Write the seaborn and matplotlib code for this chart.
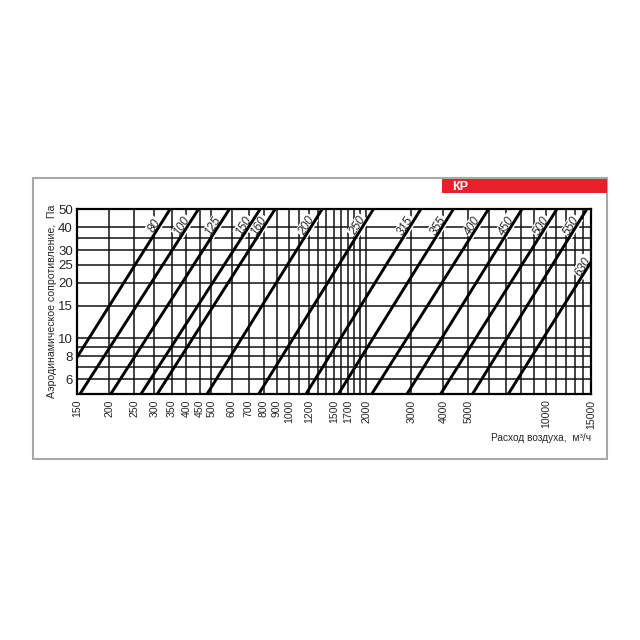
import numpy as np
import pandas as pd
import matplotlib
matplotlib.use("Agg")
import matplotlib.pyplot as plt
from matplotlib.patches import Rectangle
from matplotlib.ticker import FixedLocator, NullFormatter, FixedFormatter
import seaborn as sns

# диаметры воздуховодов и расход при 5 Па / 50 Па (м3/ч)
diameters = ["80", "100", "125", "150", "160", "200", "250", "315", "355", "400", "450", "500", "550", "630"]
q_at_5pa = [122, 154, 203, 266, 308, 481, 764, 1167, 1560, 2104, 2885, 3900, 5190, 7150]
q_at_50pa = [345, 445, 587, 773, 884, 1347, 2133, 3261, 4366, 5978, 8070, 11040, 14430, 20160]
label_pa = [40] * 13 + [24]

x_ticks = [150, 200, 250, 300, 350, 400, 450, 500, 600, 700, 800, 900, 1000, 1200,
           1500, 1700, 2000, 3000, 4000, 5000, 10000, 15000]
x_grid_extra = [1100, 1300, 1400, 1600, 1800, 1900, 6000, 7000, 8000, 9000,
                11000, 12000, 13000, 14000]
y_ticks = [6, 8, 10, 15, 20, 25, 30, 40, 50]
y_grid_extra = [7, 9, 35]

sns.set_style("white")
plt.rcParams["font.family"] = ["Liberation Sans Narrow", "Liberation Sans", "DejaVu Sans"]

df = pd.DataFrame({
    "Q": q_at_5pa + q_at_50pa,
    "P": [5] * len(diameters) + [50] * len(diameters),
    "d": diameters * 2,
})

fig = plt.figure(figsize=(6.4, 6.4), dpi=100)
ax = fig.add_axes([77 / 640, 1 - 394 / 640, 514 / 640, 184.7 / 640])

sns.lineplot(data=df, x="Q", y="P", units="d", estimator=None, sort=False,
             color="black", lw=2.1, legend=False, ax=ax, zorder=3)

ax.set_xscale("log")
ax.set_yscale("log")
ax.set_xlim(150, 15000)
ax.set_ylim(5, 50)

ax.xaxis.set_major_locator(FixedLocator(x_ticks))
ax.xaxis.set_major_formatter(FixedFormatter([str(v) for v in x_ticks]))
ax.xaxis.set_minor_locator(FixedLocator(x_grid_extra))
ax.xaxis.set_minor_formatter(NullFormatter())
ax.yaxis.set_major_locator(FixedLocator(y_ticks))
ax.yaxis.set_major_formatter(FixedFormatter([str(v) for v in y_ticks]))
ax.yaxis.set_minor_locator(FixedLocator(y_grid_extra))
ax.yaxis.set_minor_formatter(NullFormatter())

ax.grid(True, which="both", color="#111111", lw=1.1)
ax.set_axisbelow(True)
ax.tick_params(which="both", length=0)
ax.tick_params(axis="x", rotation=90, labelsize=7.6, pad=4)
ax.tick_params(axis="y", labelsize=9.5, pad=3)
for lbl in ax.get_xticklabels():
    lbl.set_family(["Liberation Sans", "DejaVu Sans"])
for s in ax.spines.values():
    s.set_color("black")
    s.set_linewidth(1.6)

ax.set_xlabel("Расход воздуха,  м³/ч", fontsize=7.3, ha="right", va="center")
ax.xaxis.set_label_coords(1.0, -0.238)
ax.set_ylabel("Аэродинамическое сопротивление,  Па", fontsize=7.6, va="center")
ax.yaxis.set_label_coords(-0.048, 0.5)

# подписи диаметров вдоль линий
for d, q5, q50, p in zip(diameters, q_at_5pa, q_at_50pa, label_pa):
    lq = np.log10(q5) + (np.log10(q50) - np.log10(q5)) * np.log10(p / 5)
    ax.annotate(d, (10 ** lq, p), xytext=(-3, 1), textcoords="offset points",
                rotation=58, ha="center", va="center", fontsize=8.6, style="italic",
                family=["Liberation Sans", "DejaVu Sans"], zorder=2.5,
                bbox=dict(boxstyle="square,pad=0.1", fc="white", ec="none"))

# рамка и красная плашка
fig.patches.append(Rectangle((33 / 640, 1 - 459 / 640), 574 / 640, 281 / 640,
                             transform=fig.transFigure, fill=False,
                             ec="#a8a8a8", lw=1.5))
fig.patches.append(Rectangle((442 / 640, 1 - 193 / 640), 165 / 640, 14 / 640,
                             transform=fig.transFigure, fc="#e8202a", ec="none"))
fig.text(452 / 640, 1 - 186.5 / 640, "КР", color="white", fontsize=9,
         fontweight="bold", va="center", ha="left",
         family=["Liberation Sans", "DejaVu Sans"])

fig.savefig("out.png", dpi=100, facecolor="white")
